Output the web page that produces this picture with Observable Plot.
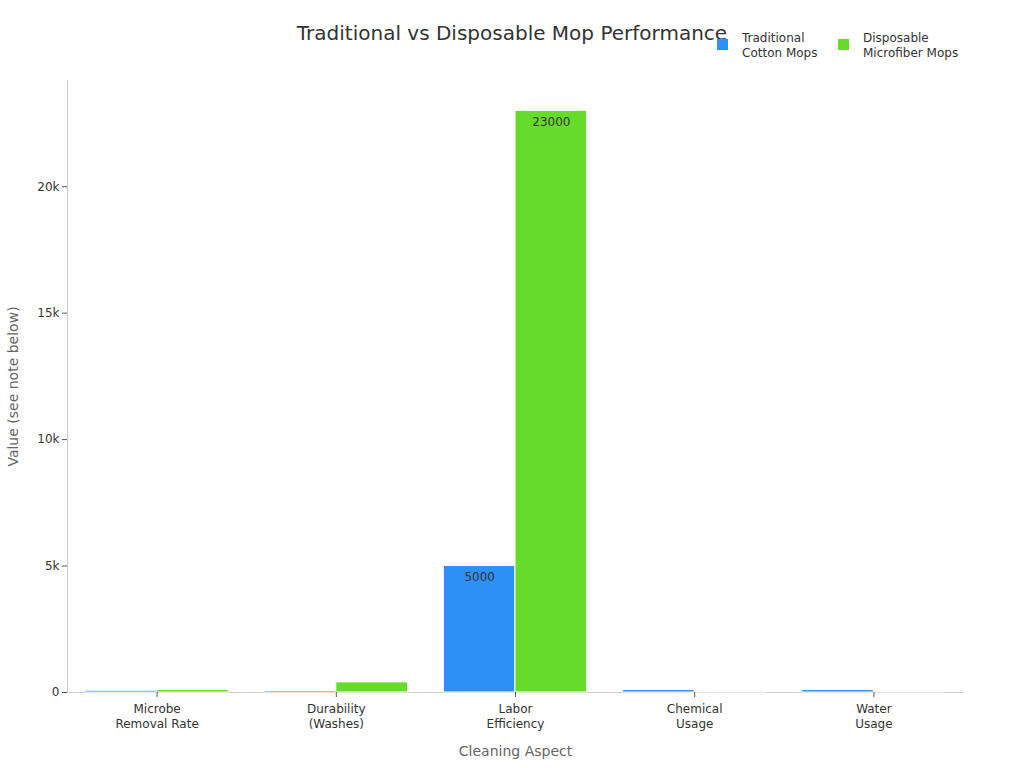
<!DOCTYPE html>
<html>
<head>
<meta charset="utf-8">
<script src="https://cdn.jsdelivr.net/npm/d3@7"></script>
<script src="https://cdn.jsdelivr.net/npm/@observablehq/plot@0.6"></script>
<style>
  body { margin: 0; background: #fff; font-family: "DejaVu Sans", sans-serif; }
  #wrap { position: relative; width: 1024px; height: 768px; }
  #title { position: absolute; left: 0; width: 1024px; top: 21px; text-align: center; font-size: 20px; color: #333; }
  .leg { position: absolute; top: 31px; font-size: 12px; color: #333; line-height: 15px; }
  .sw { position: absolute; width: 11px; height: 11px; }
  #chart { position: absolute; left: 0; top: 0; }
</style>
</head>
<body>
<div id="wrap">
  <div id="chart"></div>
  <div id="title">Traditional vs Disposable Mop Performance</div>
  <div id="legend"></div>
</div>
<script>
const categories = ["Microbe\nRemoval Rate", "Durability\n(Washes)", "Labor\nEfficiency", "Chemical\nUsage", "Water\nUsage"];
const series = ["Traditional\nCotton Mops", "Disposable\nMicrofiber Mops"];
const traditional = [70, 60, 5000, 100, 100];
const disposable = [99, 400, 23000, 10, 10];
const colors = ["#2F91F7", "#66DB29"];
const yTicks = [0, 5000, 10000, 15000, 20000];

const data = [];
categories.forEach((c, i) => {
  data.push({ci: i, si: 0, series: series[0], value: traditional[i]});
  data.push({ci: i, si: 1, series: series[1], value: disposable[i]});
});
const bw = 0.4;
const x1 = d => d.ci - bw + d.si * bw;
const x2 = d => d.ci + d.si * bw;
const fmt = d3.format("~s");

const chart = Plot.plot({
  width: 1024, height: 768,
  marginTop: 80, marginBottom: 76, marginLeft: 67, marginRight: 61,
  style: {fontFamily: "DejaVu Sans", fontSize: "12px", color: "#333", background: "transparent"},
  x: {domain: [-0.5, 4.5]},
  y: {domain: [0, 24200]},
  color: {domain: series, range: colors},
  marks: [
    Plot.ruleX([-0.5], {stroke: "#ccc"}),
    Plot.ruleY([0], {stroke: "#ccc"}),
    Plot.rectY(data, {x1, x2, y1: 0, y2: "value", fill: "series", stroke: "white", strokeWidth: 1}),
    Plot.text(data.filter(d => d.value > 1000), {x: d => (x1(d) + x2(d)) / 2, y: "value", text: d => String(d.value), dy: 11, fill: "#333", fontSize: 12}),
    Plot.axisY({ticks: yTicks, tickFormat: d => d === 0 ? "0" : fmt(d), tickSize: 5, tickPadding: 3, label: "Value (see note below)", labelAnchor: "center", labelOffset: 59, labelArrow: "none", fontSize: 12}),
    Plot.axisX({ticks: [0, 1, 2, 3, 4], tickFormat: i => categories[i], tickSize: 5, tickPadding: 5, lineHeight: 1.25, label: "Cleaning Aspect", labelAnchor: "center", labelOffset: 63, labelArrow: "none", fontSize: 12})
  ]
});
document.getElementById("chart").appendChild(chart);
d3.select(chart).selectAll('[aria-label="y-axis label"] text, [aria-label="x-axis label"] text')
  .attr("fill", "#666").style("font-size", "14px");
d3.select(chart).selectAll('[aria-label="y-axis tick"], [aria-label="x-axis tick"]').attr("stroke", "#555");

const legend = d3.select("#legend");
const legX = [717, 838];
series.forEach((s, i) => {
  legend.append("div").attr("class", "sw").style("left", legX[i] + "px").style("top", "39px").style("background", colors[i]);
  legend.append("div").attr("class", "leg").style("left", (legX[i] + 25) + "px").html(s.replace("\n", "<br>"));
});
</script>
</body>
</html>
